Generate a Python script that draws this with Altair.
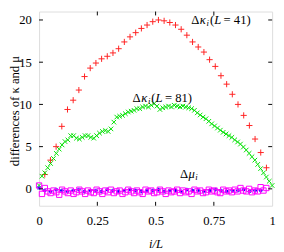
import altair as alt
import pandas as pd

L1 = 41
L2 = 81

# Delta kappa_i for L = 41, i = 1..40
kappa41 = [1.7, 3.4, 5.0, 7.4, 9.4, 10.5, 11.7, 13.3, 14.3, 14.9,
           15.4, 15.7, 16.1, 16.6, 17.4, 18.0, 18.5, 19.0, 19.4, 19.8,
           20.0, 19.9, 19.7, 19.4, 18.9, 18.2, 17.4, 16.8, 16.2, 15.3,
           14.5, 13.4, 12.4, 11.2, 10.0, 8.7, 7.5, 5.9, 4.3, 2.5]

# Delta kappa_i for L = 81, i = 0..81
kappa81 = [0.4, 1.5, 1.9, 2.5, 3.0, 3.6, 4.2, 4.7, 5.2, 5.6,
           5.8, 6.3, 6.3, 6.0, 5.9, 6.1, 6.3, 6.3, 6.1, 6.0,
           6.3, 6.6, 6.8, 6.9, 6.8, 7.1, 7.9, 8.5, 8.6, 8.7,
           8.9, 9.1, 9.2, 9.3, 9.5, 9.5, 9.7, 9.8, 9.7, 9.9,
           10.1, 9.8, 9.4, 9.6, 9.7, 9.8, 9.7, 9.9, 9.8, 9.7,
           9.8, 9.7, 9.6, 9.5, 9.3, 9.0, 8.75, 8.5, 8.3, 8.0,
           7.7, 7.45, 7.2, 6.95, 6.7, 6.5, 6.3, 6.1, 5.8, 5.55,
           5.3, 4.95, 4.6, 4.2, 3.8, 3.4, 2.9, 2.4, 1.9, 1.4,
           0.9, 0.4]

# Delta mu_i for L = 41, i = 0..39
mu41 = [0.1, -0.2, -0.3, -0.1, -0.2, -0.3, -0.2, -0.1, -0.3, -0.2,
        -0.2, -0.3, -0.1, -0.2, -0.3, -0.2, -0.1, -0.2, -0.3, -0.2,
        -0.2, -0.1, -0.3, -0.2, -0.2, -0.3, -0.1, -0.2, -0.2, -0.3,
        -0.2, -0.1, -0.2, -0.3, -0.2, -0.2, -0.1, -0.3, -0.2, -0.2]

# Delta mu_i for L = 81, i = 0..79
mu81 = [0.4, -0.6, 0.1, -0.3, -0.5, -0.2, -0.4, -0.7, -0.1, -0.3,
        -0.5, -0.2, -0.6, -0.4, -0.1, -0.3, -0.6, -0.2, -0.4, -0.5,
        -0.1, -0.3, -0.6, -0.2, -0.4, -0.1, -0.5, -0.3, -0.2, -0.6,
        -0.4, -0.1, -0.3, -0.5, -0.2, -0.4, -0.6, -0.1, -0.3, -0.2,
        -0.5, -0.4, -0.1, -0.3, -0.6, -0.2, -0.4, -0.3, -0.1, -0.5,
        -0.2, -0.4, -0.3, -0.6, -0.1, -0.3, -0.2, -0.5, -0.4, -0.1,
        -0.3, -0.2, -0.4, -0.5, -0.1, -0.3, -0.2, -0.4, -0.1, -0.3,
        0.1, -0.2, -0.3, 0.0, -0.4, -0.2, -0.3, 0.2, -0.2, 0.1]

yticks = [0, 5, 10, 15, 20]
xticks = [0, 0.25, 0.5, 0.75, 1]
xtick_labels = ["0", "0.25", "0.5", "0.75", "1"]
inner_xticks = [0.25, 0.5, 0.75]

FONT = "Liberation Serif, Times New Roman, serif"
W, H = 240, 200

df_r = pd.DataFrame({"x": [(i + 1) / L1 for i in range(len(kappa41))], "v": kappa41})
df_g = pd.DataFrame({"x": [i / L2 for i in range(len(kappa81))], "v": kappa81})
df_b = pd.DataFrame({"x": [i / L1 for i in range(len(mu41))], "v": mu41})
df_m = pd.DataFrame({"x": [i / L2 for i in range(len(mu81))], "v": mu81})
df_yt = pd.DataFrame({"v": yticks})
df_xt = pd.DataFrame({"x": inner_xticks})

xs = alt.Scale(domain=[0, 1], nice=False, zero=False)
ys = alt.Scale(domain=[-2, 21], nice=False, zero=False)

label_map = "{" + ", ".join(f"'{v}': '{t}'" for v, t in zip(xticks, xtick_labels)) + "}"

xaxis = alt.Axis(values=xticks, labelExpr=f"{label_map}[toString(datum.value)]",
                 ticks=False, domain=False, grid=False,
                 labelFont=FONT, labelFontSize=13, labelColor="black", labelPadding=9,
                 labelFlush=False,
                 title="i/L", titleFont=FONT, titleFontSize=13, titleFontStyle="italic",
                 titleFontWeight="normal", titleColor="black", titlePadding=11)
yaxis = alt.Axis(values=yticks, ticks=False, domain=False, grid=False,
                 labelFont=FONT, labelFontSize=13, labelColor="black", labelPadding=8,
                 title="differences of κ and μ", titleFont=FONT, titleFontSize=13,
                 titleFontWeight="normal", titleColor="black",
                 titleX=-21, titleY=102, titleAngle=270, titleBaseline="alphabetic",
                 titleAlign="center")

X = alt.X("x:Q", scale=xs, axis=xaxis)
Y = alt.Y("v:Q", scale=ys, axis=yaxis)

PLUS = "M-1,0L1,0M0,-1L0,1"
CROSS = "M-1,-1L1,1M-1,1L1,-1"
STAR = "M-1,0L1,0M0,-1L0,1M-0.7,-0.7L0.7,0.7M-0.7,0.7L0.7,-0.7"

red = alt.Chart(df_r).mark_point(shape=PLUS, filled=False, size=40, strokeWidth=1,
                                 color="#ff2020", opacity=1).encode(x=X, y=Y)
green = alt.Chart(df_g).mark_point(shape=CROSS, filled=False, size=22, strokeWidth=1,
                                   color="#00e000", opacity=1).encode(x=X, y=Y)
blue = alt.Chart(df_b).mark_point(shape=STAR, filled=False, size=16, strokeWidth=1,
                                  color="#0000ff", opacity=1).encode(x=X, y=Y)
mag = alt.Chart(df_m).mark_point(shape="square", filled=False, size=30, strokeWidth=1,
                                 color="#ff00ff", opacity=1).encode(x=X, y=Y)

ytl = alt.Chart(df_yt).mark_rule(color="black", strokeWidth=1).encode(
    y=Y, x=alt.value(0), x2=alt.value(4))
ytr = alt.Chart(df_yt).mark_rule(color="black", strokeWidth=1).encode(
    y=Y, x=alt.value(W - 4), x2=alt.value(W))
xtb = alt.Chart(df_xt).mark_rule(color="black", strokeWidth=1).encode(
    x=X, y=alt.value(H - 4), y2=alt.value(H))
xtt = alt.Chart(df_xt).mark_rule(color="black", strokeWidth=1).encode(
    x=X, y=alt.value(0), y2=alt.value(4))

# annotation anchors (data coordinates) and their pieces
ann_x = [0.6875, 0.436, 0.639]
ann_v = [20.0, 10.77, 1.79]
ann_L = ["41", "81", None]
ann_sym = ["κ", "κ", "μ"]


def piece(df, text, dx, dy=0, size=13, style="normal", align="left"):
    return alt.Chart(df).mark_text(text=text, dx=dx, dy=dy, align=align, baseline="middle",
                                   font=FONT, fontSize=size, fontStyle=style,
                                   color="black").encode(x=X, y=Y)


texts = []
for ax, av, al, sym in zip(ann_x, ann_v, ann_L, ann_sym):
    d = pd.DataFrame({"x": [ax], "v": [av]})
    texts.append(piece(d, "Δ", 0, align="right"))
    texts.append(piece(d, sym, 0.5, style="italic"))
    texts.append(piece(d, "i", 7.5, dy=3, size=9, style="italic"))
    if al is not None:
        texts.append(piece(d, "(", 11))
        texts.append(piece(d, "L", 15.3, style="italic"))
        texts.append(piece(d, "= " + al + ")", 25))

chart = alt.layer(red, green, blue, mag, ytl, ytr, xtb, xtt, *texts).properties(
    width=W, height=H,
    autosize=alt.AutoSizeParams(type="none"),
    padding={"left": 32, "top": 0, "right": 4, "bottom": 44},
).configure_view(stroke="black", strokeWidth=1).configure(background="white")

chart.save("out.html", embed_options={"renderer": "svg", "actions": False})
